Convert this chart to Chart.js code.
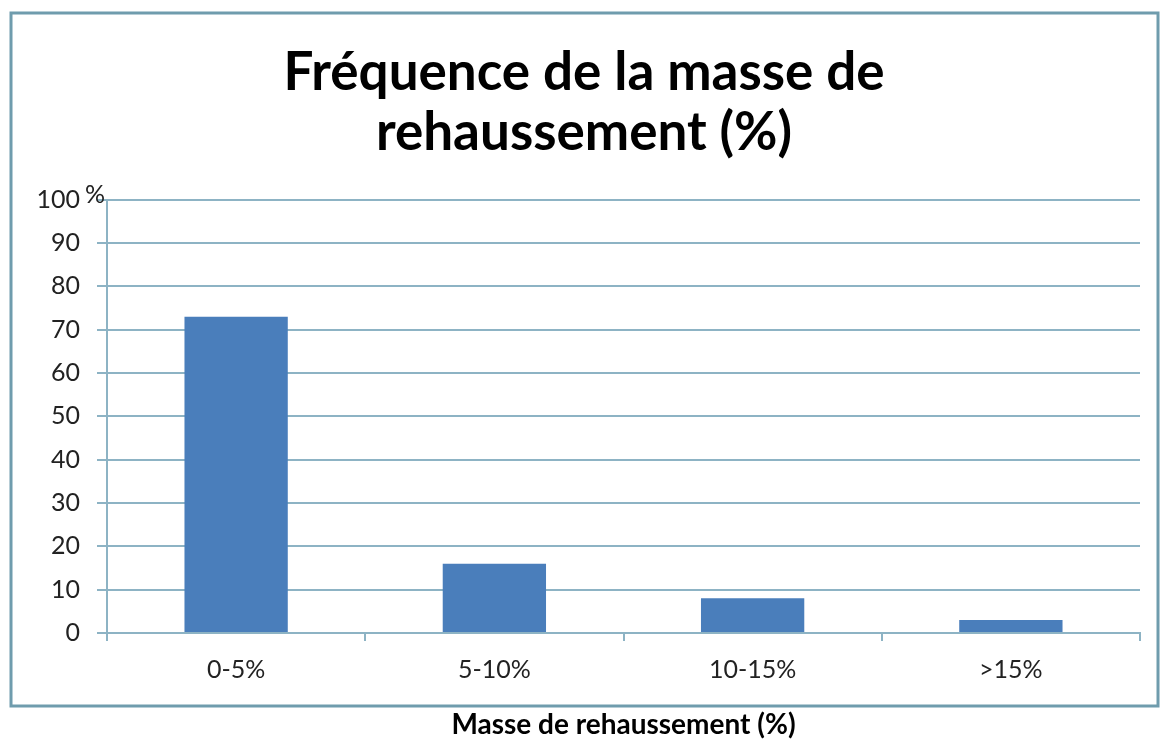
<!DOCTYPE html>
<html>
<head>
<meta charset="utf-8">
<script src="https://cdn.jsdelivr.net/npm/chart.js@4.4.1/dist/chart.umd.min.js"></script>
<style>
  html, body { margin: 0; padding: 0; background: #fff; }
  #wrap { width: 1163px; height: 742px; }
</style>
</head>
<body>
<div id="wrap"><canvas id="chart13" width="1163" height="742"></canvas></div>
<script>
var categories = ["0-5%", "5-10%", "10-15%", ">15%"];
var frequences = [73, 16, 8, 3];
var titleLines = ["Fréquence de la masse de", "rehaussement (%)"];
var axisTitle = "Masse de rehaussement (%)";

var lineColor = "#8db3c4";
var fontFamily = "Lato, 'Open Sans', sans-serif";

// cadre autour du graphique + le "%" du haut de l'axe
var frame = {
  id: "frame",
  beforeDraw: function(chart) {
    var c = chart.ctx;
    c.save();
    c.strokeStyle = "#6f9cad";
    c.lineWidth = 3;
    c.strokeRect(11, 13, 1147, 693);
    c.restore();
  },
  afterDraw: function(chart) {
    var y = chart.scales.y;
    var c = chart.ctx;
    c.save();
    c.font = "25px " + fontFamily;
    c.fillStyle = "#222";
    c.textBaseline = "middle";
    c.fillText("%", 85, y.getPixelForValue(100) - 5);
    c.restore();
  }
};

var ctx = document.getElementById("chart13").getContext("2d");
var chart = new Chart(ctx, {
  type: "bar",
  data: {
    labels: categories,
    datasets: [{
      data: frequences,
      backgroundColor: "#4a7ebb",
      categoryPercentage: 1,
      barPercentage: 0.4
    }]
  },
  options: {
    responsive: false,
    animation: false,
    layout: { padding: { left: 28, right: 23, top: 0, bottom: 0 } },
    plugins: {
      legend: { display: false },
      tooltip: { enabled: false },
      title: {
        display: true,
        text: titleLines,
        color: "#000",
        font: { family: fontFamily, size: 53, weight: "bold", lineHeight: 1.13 },
        padding: { top: 43, bottom: 37 }
      }
    },
    scales: {
      x: {
        grid: { drawOnChartArea: false, drawTicks: true, tickLength: 8, color: lineColor, lineWidth: 2 },
        border: { color: lineColor, width: 2 },
        ticks: { color: "#222", font: { family: fontFamily, size: 25 }, padding: 14 },
        title: {
          display: true,
          text: axisTitle,
          color: "#000",
          font: { family: fontFamily, size: 28, weight: "bold" },
          padding: { top: 24, bottom: 0 }
        },
        afterFit: function(scale) { scale.height = 109; }
      },
      y: {
        min: 0,
        max: 100,
        ticks: {
          stepSize: 10,
          color: "#222",
          font: { family: fontFamily, size: 25 },
          padding: 17
        },
        grid: { color: lineColor, lineWidth: 2, tickLength: 10 },
        border: { color: lineColor, width: 2 },
        afterFit: function(scale) { scale.width = 79; }
      }
    }
  },
  plugins: [frame]
});
</script>
</body>
</html>
